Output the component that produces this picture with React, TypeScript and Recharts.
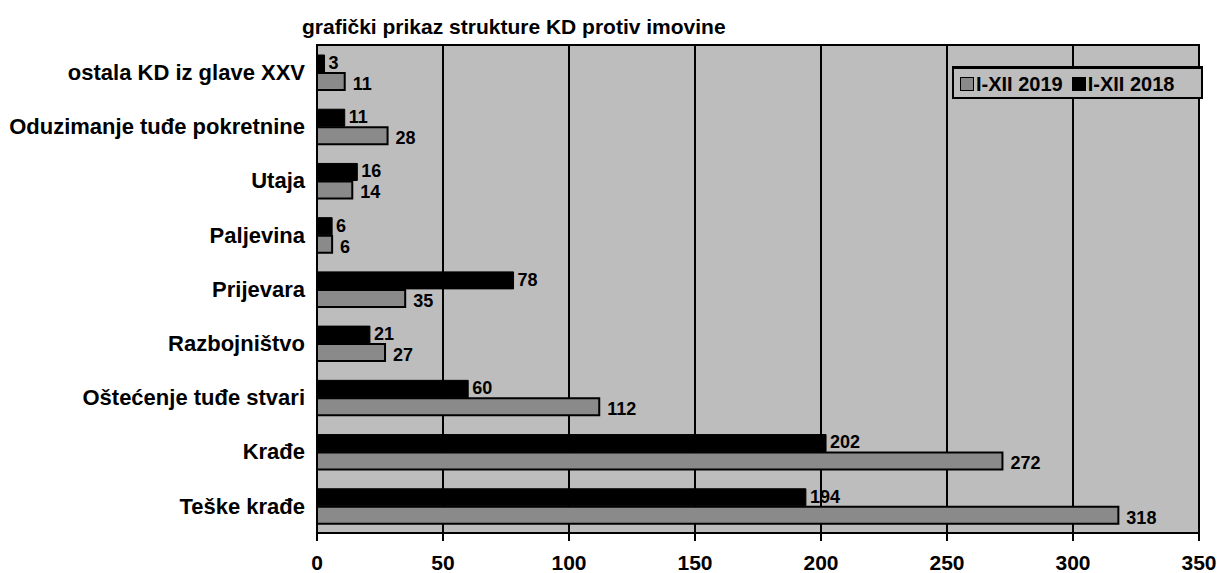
import { BarChart, Bar, XAxis, YAxis, CartesianGrid, Legend, LabelList, ReferenceArea } from 'recharts';

const categories = [
  'ostala KD iz glave XXV',
  'Oduzimanje tuđe pokretnine',
  'Utaja',
  'Paljevina',
  'Prijevara',
  'Razbojništvo',
  'Oštećenje tuđe stvari',
  'Krađe',
  'Teške krađe',
];
const values2019 = [11, 28, 14, 6, 35, 27, 112, 272, 318];
const values2018 = [3, 11, 16, 6, 78, 21, 60, 202, 194];
const xTicks = [0, 50, 100, 150, 200, 250, 300, 350];

const data = categories.map((name, i) => ({ name, y2019: values2019[i], y2018: values2018[i] }));

const FONT = '"Liberation Sans", Arial, sans-serif';
const PLOT_BG = '#bdbdbd';
const GREY_BAR = '#8a8a8a';
const axisText = { fill: '#000', fontWeight: 700, fontSize: 21, fontFamily: FONT };
const catText = { fill: '#000', fontWeight: 700, fontSize: 22, fontFamily: FONT };
const valText = { fill: '#000', fontWeight: 700, fontSize: 18, fontFamily: FONT };

function LegendBox() {
  const item = (color: string, text: string) => (
    <span style={{ display: 'inline-flex', alignItems: 'center', marginRight: 9 }}>
      <span style={{ width: 12, height: 12, background: color, border: '1px solid #000', marginRight: 2 }} />
      {text}
    </span>
  );
  return (
    <div
      style={{
        boxSizing: 'border-box',
        width: 251,
        height: 33,
        border: '2px solid #000',
        borderTopWidth: 3,
        background: PLOT_BG,
        padding: '3px 0 0 6px',
        fontFamily: FONT,
        fontWeight: 700,
        fontSize: 20,
        lineHeight: '24px',
        whiteSpace: 'nowrap',
        textAlign: 'left',
      }}
    >
      {item(GREY_BAR, 'I-XII 2019')}
      {item('#000', 'I-XII 2018')}
    </div>
  );
}

export default function App() {
  return (
    <div style={{ position: 'absolute', left: 0, top: 0, width: 1217, height: 573, background: '#fff' }}>
      <div
        style={{
          position: 'absolute',
          left: 302,
          top: 15,
          fontFamily: FONT,
          fontWeight: 700,
          fontSize: 21,
          lineHeight: '24px',
          color: '#000',
        }}
      >
        grafički prikaz strukture KD protiv imovine
      </div>
      <BarChart
        width={1217}
        height={573}
        data={data}
        layout="vertical"
        margin={{ top: 45, right: 18, left: 0, bottom: 10 }}
        barSize={17}
        barGap={1}
      >
        <CartesianGrid horizontal={false} stroke="#000" strokeWidth={2} fill={PLOT_BG} fillOpacity={1} />
        <ReferenceArea x1={0} x2={350} fill="none" stroke="#000" strokeWidth={2} ifOverflow="visible" />
        <XAxis
          type="number"
          domain={[0, 350]}
          ticks={xTicks}
          height={30}
          stroke="#000"
          strokeWidth={2}
          tickSize={8}
          tickMargin={14}
          tick={axisText}
        />
        <YAxis
          type="category"
          dataKey="name"
          width={317}
          stroke="#000"
          strokeWidth={2}
          tickLine={false}
          tickMargin={6}
          tick={catText}
        />
        <Legend
          layout="horizontal"
          verticalAlign="middle"
          align="center"
          content={() => <LegendBox />}
          wrapperStyle={{ top: 66, left: 952, width: 251, height: 33 }}
        />
        <Bar dataKey="y2018" name="I-XII 2018" fill="#000" stroke="#000" isAnimationActive={false}>
          <LabelList dataKey="y2018" position="right" offset={4} dy={-1} style={valText} />
        </Bar>
        <Bar dataKey="y2019" name="I-XII 2019" fill={GREY_BAR} stroke="#000" strokeWidth={2} isAnimationActive={false}>
          <LabelList dataKey="y2019" position="right" offset={8} dy={2} style={valText} />
        </Bar>
      </BarChart>
    </div>
  );
}
